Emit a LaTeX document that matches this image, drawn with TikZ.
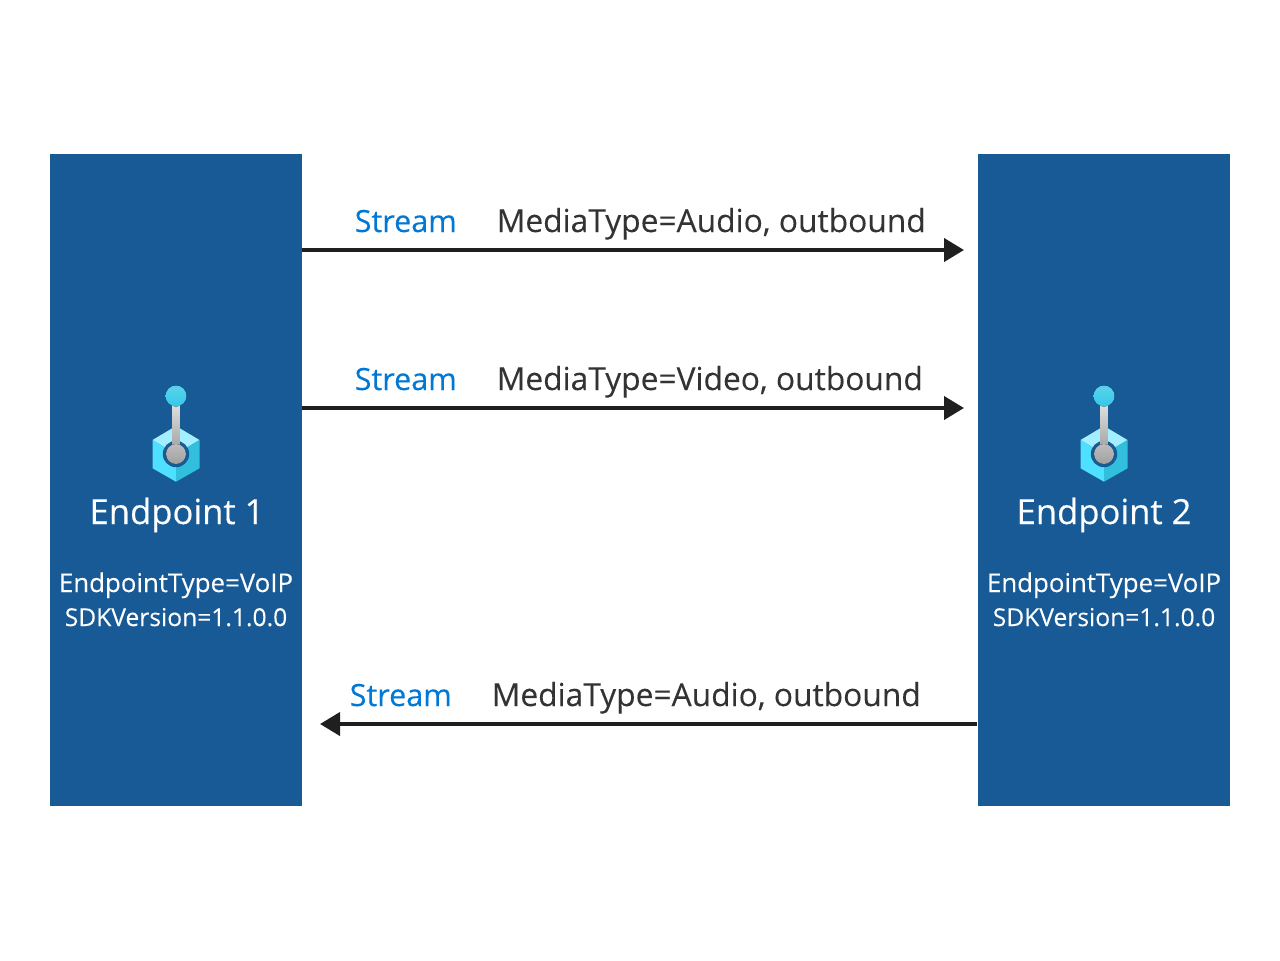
\documentclass[tikz,border=0pt]{standalone}
\usepackage{fontspec}
\setmainfont{Open Sans}[FakeBold=0.12]
\newfontfamily\titlefont{Open Sans}[FakeBold=0.3]
\usetikzlibrary{arrows.meta,positioning}
\definecolor{boxblue}{HTML}{175A96}
\definecolor{streamblue}{HTML}{0078D4}
\definecolor{labelgray}{HTML}{333333}
\definecolor{arrowblack}{HTML}{1F1F1F}
\definecolor{cubetop}{HTML}{A3EEFF}
\definecolor{cubeleft}{HTML}{50E0FF}
\definecolor{cuberight}{HTML}{32BEDD}
\definecolor{stemgray}{HTML}{A0A0A0}
\definecolor{stemlight}{HTML}{E2E2E2}
\definecolor{ballblue}{HTML}{32C8E8}
\tikzset{
    endpoint/.style={fill=boxblue, minimum width=2.52cm, minimum height=6.52cm, inner sep=0pt},
    flow/.style={draw=arrowblack, line width=0.04cm, -{Triangle[length=0.2cm,width=0.23cm]}},
    streamlabel/.style={text=streamblue, font=\fontsize{8.7}{11}\selectfont, anchor=base west, inner sep=0pt},
    medialabel/.style={text=labelgray, font=\fontsize{9.03}{11}\selectfont, anchor=base west, inner sep=0pt},
    titlelabel/.style={text=white, font=\titlefont\fontsize{9.85}{12}\selectfont, anchor=base, inner sep=0pt},
    infolabel/.style={text=white, font=\fontsize{7.35}{9}\selectfont, anchor=base, inner sep=0pt},
    sdklabel/.style={text=white, font=\fontsize{7.0}{9}\selectfont, anchor=base, inner sep=0pt},
    pics/joystick/.style={code={
        \fill[cubetop] (-0.235,-0.44) -- (0,-0.30) -- (0.235,-0.44) -- (0,-0.58) -- cycle;
        \fill[cubeleft] (-0.235,-0.44) -- (0,-0.58) -- (0,-0.857) -- (-0.235,-0.723) -- cycle;
        \fill[cuberight] (0.235,-0.44) -- (0,-0.58) -- (0,-0.857) -- (0.235,-0.723) -- cycle;
        \fill[boxblue] (0,-0.58) circle (0.132);
        \fill[top color=stemlight, bottom color=stemgray] (-0.036,-0.06) rectangle (0.036,-0.55);
        \fill[top color=stemgray!70!white, bottom color=stemgray] (0,-0.58) circle (0.10);
        \fill[top color=ballblue!80!white, bottom color=ballblue] (0,0) circle (0.105);
    }},
}
\begin{document}
\begin{tikzpicture}
    \useasboundingbox (0,0) rectangle (12.8,9.6);
    \node[endpoint] (ep1) at (1.76,4.8) {};
    \node[endpoint] (ep2) at (11.04,4.8) {};
    % icons
    \pic at (1.76,5.64) {joystick};
    \pic at (11.04,5.64) {joystick};
    % left box text
    \node[titlelabel] (title1) at (1.77,4.36) {Endpoint 1};
    \node[infolabel] (type1) at (1.76,3.68) {EndpointType=VoIP};
    \node[sdklabel] (sdk1) at (1.76,3.34) {SDKVersion=1.1.0.0};
    % right box text
    \node[titlelabel] (title2) at (11.04,4.36) {Endpoint 2};
    \node[infolabel] (type2) at (11.04,3.68) {EndpointType=VoIP};
    \node[sdklabel] (sdk2) at (11.04,3.34) {SDKVersion=1.1.0.0};
    % arrow ends
    \coordinate (audioout) at (9.64,7.10);
    \coordinate (videoout) at (9.64,5.52);
    \coordinate (audioback) at (3.2,2.36);
    \draw[flow, shorten <=-0.01cm] (ep1.east |- audioout) -- (audioout);
    \draw[flow, shorten <=-0.01cm] (ep1.east |- videoout) -- (videoout);
    \draw[flow] (ep2.west |- audioback) -- (audioback);
    % labels
    \node[streamlabel] (s1) at (3.54,7.28) {Stream};
    \node[medialabel] (m1) at (4.96,7.28) {MediaType=Audio, outbound};
    \node[streamlabel] (s2) at (3.54,5.70) {Stream};
    \node[medialabel] (m2) at (4.96,5.70) {MediaType=Video, outbound};
    \node[streamlabel] (s3) at (3.49,2.54) {Stream};
    \node[medialabel] (m3) at (4.91,2.54) {MediaType=Audio, outbound};
\end{tikzpicture}
\end{document}
